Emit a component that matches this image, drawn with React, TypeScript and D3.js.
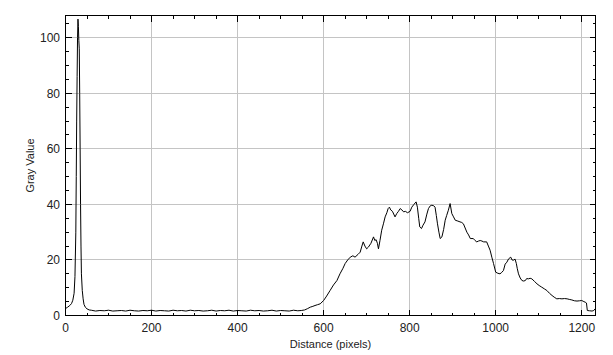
import React from "react";
import * as d3 from "d3";

const distances: number[] = [
  0, 5, 10, 14, 17, 20, 22, 24, 25, 26, 27, 28, 29, 30, 31, 32, 33, 34, 35, 36, 37, 39, 41, 43, 46, 50, 55,
  60, 70, 80, 90, 100, 110, 120, 130, 140, 150, 160, 170, 180, 190, 200, 210, 220, 230, 240, 250,
  260, 270, 280, 290, 300, 310, 320, 330, 340, 350, 360, 370, 380, 390, 400, 410, 420, 430, 440,
  450, 460, 470, 480, 490, 500, 510, 520, 530, 540,
  548, 556, 563, 569, 575, 580, 586, 592, 600, 607, 615, 623, 631, 638, 645, 650, 656, 662, 668, 673,
  680, 685, 689, 692, 696, 700, 704, 710, 716, 719, 722, 725, 727.5, 731, 735, 739, 743, 747, 750,
  753, 756, 760, 766, 770, 774, 778, 782, 786, 790, 795, 801, 805, 810, 815, 818, 821, 823.5, 827.5,
  831, 835.6, 840, 843.7, 848, 851.6, 856, 859, 862, 864.7, 868, 871, 875, 879, 882.6, 886, 890, 894,
  898, 902, 906, 912, 917, 921, 925, 929, 933, 937, 941, 948, 952, 956, 960, 964, 968, 972, 979, 983,
  987, 991, 995, 1000, 1005, 1010, 1014, 1018, 1022, 1026, 1030, 1035, 1038, 1041, 1045, 1048, 1050,
  1053, 1057, 1061, 1065, 1069, 1072, 1076, 1080, 1084, 1090, 1096, 1101, 1107, 1113, 1119, 1125,
  1131, 1136, 1142, 1148, 1154, 1160, 1166, 1171, 1177, 1183, 1189, 1195, 1200, 1205, 1208, 1211,
  1213, 1218, 1224, 1228, 1231,
];

const grayValues: number[] = [
  2.5, 3.0, 3.6, 4.3, 5.5, 8, 14, 30, 50, 70, 86, 100, 106.7, 104, 99, 96, 80, 60, 40, 25, 15, 9, 6, 4, 3, 2.4, 2.0,
  1.9, 1.6, 1.8, 1.7, 1.9, 1.6, 1.7, 1.8, 1.6, 1.9, 1.7, 1.6, 1.8, 1.7, 1.9, 1.6, 1.8, 1.7, 1.6, 1.9,
  1.7, 1.8, 1.6, 1.9, 1.7, 1.8, 1.6, 1.7, 1.9, 1.6, 1.8, 1.7, 1.9, 1.6, 1.8, 1.7, 1.6, 1.9, 1.7,
  1.8, 1.6, 1.7, 1.9, 1.6, 1.8, 1.7, 1.6, 1.9, 1.7,
  1.8, 2.0, 2.5, 3.0, 3.3, 3.6, 3.9, 4.2, 5.4, 7, 9, 11, 12.6, 15, 17, 18.7, 20, 21, 21.5, 21,
  22, 22.8, 25, 26.5, 25, 24, 24.6, 26, 28.3, 27, 27.3, 26, 24, 27, 30.7, 33, 35.5, 37, 38.5,
  39, 38, 37.5, 35.5, 36.7, 37.5, 38.5, 38, 37.3, 37.5, 37, 37.5, 39, 40, 40.9, 39, 35, 31.9, 31.3,
  32.5, 33.7, 36.5, 38.5, 39.5, 39.7, 39.5, 39, 36, 33, 30, 27.7, 28.3, 31, 34.3, 36, 37.9, 40.3,
  36.7, 35.5, 34.3, 34, 33.7, 33.5, 33, 31.5, 30, 29, 27.7, 27.7, 27, 26.5, 26.8, 27, 26.8, 26.5, 26.5, 25,
  23.5, 21, 18.7, 15.6, 15.2, 15, 15.5, 16.2, 18.5, 19.2, 20.4, 21, 20, 19.9, 20.3, 18.7, 17,
  15, 13.5, 12.6, 12.4, 12.6, 13.3, 13.2, 13.4, 13.2, 12.3, 11.4, 10.8, 10.2, 9.6, 9, 8,
  7.2, 6.6, 6, 6.1, 6, 6.1, 6, 5.8, 5.6, 5.3, 5.2, 5.3, 5.4, 5.0, 4.8, 4.5,
  1.8, 1.7, 1.6, 1.8, 2.4,
];

const xMajorTicks = [0, 200, 400, 600, 800, 1000, 1200];
const yMajorTicks = [0, 20, 40, 60, 80, 100];
const xMinorStep = 50;
const yMinorStep = 5;
const xLabel = "Distance (pixels)";
const yLabel = "Gray Value";

const W = 613;
const H = 355;
const L = 65.5;
const R = 595.5;
const T = 15.5;
const B = 315.5;

export default function App() {
  const x = d3.scaleLinear().domain([0, 1232]).range([L, R]);
  const y = d3.scaleLinear().domain([0, 108]).range([B, T]);
  const pts: [number, number][] = distances.map((d, i) => [d, grayValues[i]]);
  const line = d3
    .line<[number, number]>()
    .x((d) => x(d[0]))
    .y((d) => y(d[1]));

  const xMinor = d3.range(0, 1232, xMinorStep).filter((v) => v % 200 !== 0);
  const yMinor = d3.range(0, 108, yMinorStep).filter((v) => v % 20 !== 0);
  const font = "'Liberation Sans', Arial, sans-serif";

  return (
    <svg
      width={W}
      height={H}
      style={{ position: "absolute", left: 0, top: 0, background: "#fff" }}
    >
      <rect x={0} y={0} width={W} height={H} fill="#fff" />
      {/* grid */}
      {xMajorTicks
        .filter((v) => v > 0)
        .map((v) => (
          <line key={"gx" + v} x1={x(v)} x2={x(v)} y1={T} y2={B} stroke="#c4c4c4" strokeWidth={1} shapeRendering="crispEdges" />
        ))}
      {yMajorTicks
        .filter((v) => v > 0)
        .map((v) => (
          <line key={"gy" + v} x1={L} x2={R} y1={y(v)} y2={y(v)} stroke="#c4c4c4" strokeWidth={1} shapeRendering="crispEdges" />
        ))}
      {/* data */}
      <path d={line(pts) || ""} fill="none" stroke="#000" strokeWidth={1} />
      {/* frame */}
      <rect x={L} y={T} width={R - L} height={B - T} fill="none" stroke="#000" strokeWidth={1} shapeRendering="crispEdges" />
      {/* ticks */}
      <g stroke="#000" strokeWidth={1} shapeRendering="crispEdges">
        {xMajorTicks.map((v) => (
          <g key={"xt" + v}>
            <line x1={x(v)} x2={x(v)} y1={B} y2={B - 6} />
            <line x1={x(v)} x2={x(v)} y1={T} y2={T + 6} />
          </g>
        ))}
        {xMinor.map((v) => (
          <g key={"xm" + v}>
            <line x1={x(v)} x2={x(v)} y1={B} y2={B - 3} />
            <line x1={x(v)} x2={x(v)} y1={T} y2={T + 3} />
          </g>
        ))}
        {yMajorTicks.map((v) => (
          <g key={"yt" + v}>
            <line x1={L} x2={L + 6} y1={y(v)} y2={y(v)} />
            <line x1={R} x2={R - 6} y1={y(v)} y2={y(v)} />
          </g>
        ))}
        {yMinor.map((v) => (
          <g key={"ym" + v}>
            <line x1={L} x2={L + 3} y1={y(v)} y2={y(v)} />
            <line x1={R} x2={R - 3} y1={y(v)} y2={y(v)} />
          </g>
        ))}
      </g>
      {/* tick labels */}
      <g fontFamily={font} fontSize={12} fill="#222">
        {xMajorTicks.map((v) => (
          <text key={"xl" + v} x={x(v)} y={332} textAnchor="middle">
            {v}
          </text>
        ))}
        {yMajorTicks.map((v) => (
          <text key={"yl" + v} x={60} y={y(v) + 4.5} textAnchor="end">
            {v}
          </text>
        ))}
      </g>
      <text x={(L + R) / 2} y={348} textAnchor="middle" fontFamily={font} fontSize={11} fill="#222">
        {xLabel}
      </text>
      <text
        transform={`translate(34, ${(T + B) / 2}) rotate(-90)`}
        textAnchor="middle"
        fontFamily={font}
        fontSize={11}
        fill="#222"
      >
        {yLabel}
      </text>
    </svg>
  );
}
